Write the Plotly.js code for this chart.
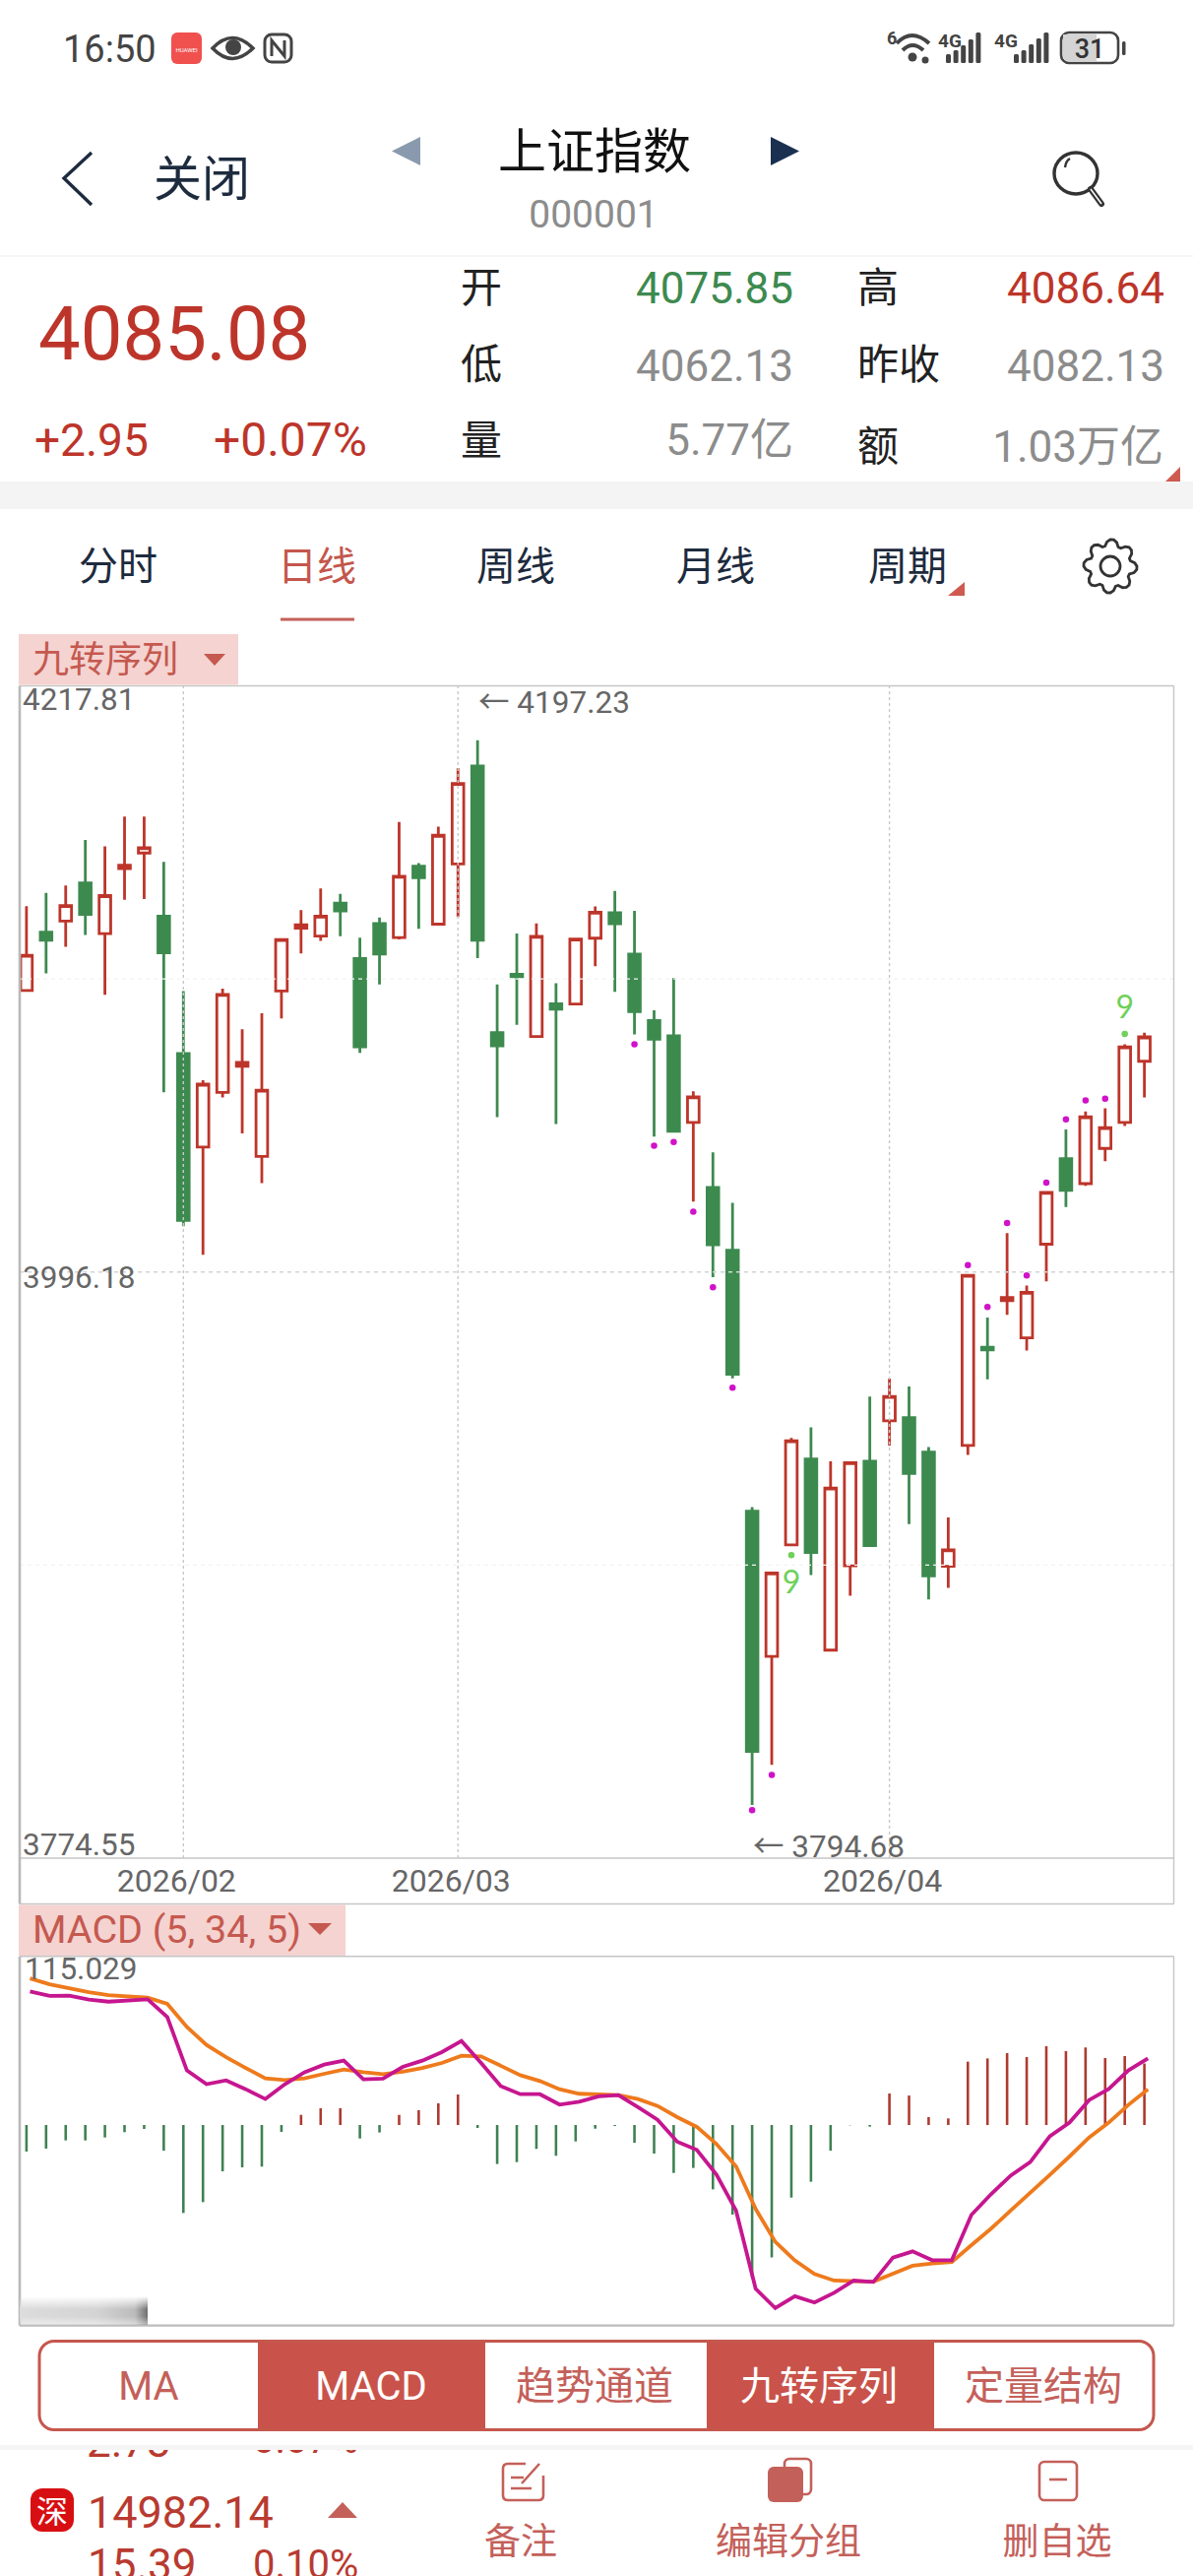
<!DOCTYPE html>
<html lang="zh-CN">
<head>
<meta charset="utf-8">
<script src="https://cdn.plot.ly/plotly-3.0.1.min.js"></script>
<style>
html,body{margin:0;padding:0;background:#fff;width:1212px;height:2616px;overflow:hidden}
#chart{position:absolute;left:0;top:0;width:1212px;height:2616px}
#chrome{position:absolute;left:0;top:0;width:1212px;height:2616px;pointer-events:none}
#chrome div{position:absolute;white-space:nowrap;line-height:1}
#chrome svg{position:absolute;left:0;top:0}
</style>
</head>
<body>
<div id="chart"></div>
<div id="chrome"></div>
<script>
// ---------- chart data ----------
const opens  = [4102.6,4124.7,4128.9,4143.3,4124.1,4148.7,4154.6,4130.7,4078.8,4043.4,4064.1,4074.0,4039.9,4102.4,4126.2,4123.2,4135.7,4114.7,4127.9,4122.6,4149.6,4127.7,4150.5,4187.5,4086.7,4108.8,4085.2,4097.6,4097.5,4122.4,4132.0,4116.4,4091.3,4085.5,4052.7,4028.1,4004.4,3905.7,3850.8,3893.0,3925.5,3853.2,3885.1,3924.6,3939.9,3941.1,3928.1,3884.9,3930.6,3967.7,3985.3,3971.3,4006.7,4039.0,4029.6,4042.9,4052.7,4075.85];
const highs  = [4134.5,4139.5,4142.3,4159.5,4157.1,4168.4,4168.4,4151.3,4102.4,4068.7,4103.3,4088.0,4094.0,4122.1,4133.0,4141.2,4139.2,4122.6,4130.2,4166.3,4150.8,4164.6,4186.7,4197.23,4104.9,4124.2,4128.0,4105.4,4122.4,4134.4,4140.3,4132.7,4095.1,4107.3,4064.5,4041.4,4022.3,3907.3,3882.6,3933.4,3937.4,3924.6,3924.6,3949.1,3955.9,3952.9,3930.0,3903.4,3995.1,3979.0,4010.9,3991.1,4026.5,4050.1,4056.9,4058.1,4082.3,4086.64];
const lows   = [4102.6,4109.1,4119.1,4123.6,4101.0,4136.9,4137.2,4064.1,4013.5,4002.7,4062.2,4048.6,4029.8,4092.1,4116.6,4121.4,4123.1,4079.0,4104.9,4121.9,4125.9,4127.5,4130.4,4114.9,4054.7,4089.6,4085.0,4052.1,4097.3,4111.8,4102.1,4086.0,4047.4,4049.1,4022.8,3994.2,3956.0,3794.68,3809.8,3892.9,3881.6,3853.0,3873.8,3892.5,3930.6,3900.9,3872.4,3876.8,3927.0,3955.6,3980.0,3966.5,3992.6,4020.8,4028.8,4038.1,4051.4,4062.13];
const closes = [4115.9,4121.6,4134.7,4131.4,4138.5,4150.0,4156.6,4116.9,4015.7,4067.2,4101.1,4075.4,4064.9,4121.9,4127.5,4130.7,4132.7,4081.3,4116.4,4145.8,4145.3,4161.3,4180.9,4121.6,4081.7,4107.8,4123.1,4095.6,4122.1,4132.2,4127.9,4094.6,4084.2,4049.4,4062.4,4006.5,3957.5,3814.9,3882.4,3932.4,3890.1,3914.5,3924.1,3892.7,3949.1,3920.0,3881.3,3891.1,3994.9,3966.7,3986.5,3988.5,4026.3,4027.0,4054.9,4050.8,4081.3,4085.08];
const dayIndex = opens.map((_, i) => i);

const macdHist = [-18.1,-16.1,-10.5,-10.5,-8.5,-4.9,-2.7,-17.5,-60.0,-52.6,-31.6,-28.9,-28.4,-4.7,6.9,11.4,11.4,-9.2,-5.1,6.9,10.1,14.8,20.8,-2.0,-26.6,-25.3,-16.3,-21.0,-11.2,-2.5,-0.7,-12.1,-19.5,-32.7,-29.3,-43.9,-61.1,-104.3,-90.4,-49.5,-38.7,-17.5,-0.2,-1.1,21.5,20.1,5.4,4.5,43.2,45.4,49.0,46.3,53.7,50.4,52.8,45.7,47.0,41.9];
const dif = [91.1,88.0,88.2,85.5,84.1,85.0,85.7,73.6,37.2,27.8,30.4,24.4,17.7,27.8,36.0,41.2,43.9,31.1,31.6,39.6,43.9,49.7,57.3,42.3,26.6,21.0,21.0,13.9,15.9,19.5,20.4,12.1,3.6,-11.4,-17.0,-33.8,-58.4,-111.7,-124.9,-116.8,-121.1,-114.4,-106.1,-107.0,-90.4,-86.2,-92.2,-92.2,-61.3,-47.2,-34.5,-25.3,-7.6,1.6,17.0,24.6,37.2,45.4];
const dea = [100.0,96.0,93.3,90.6,88.6,87.5,86.8,82.6,66.9,54.6,46.3,38.9,31.8,30.7,31.8,34.9,37.8,36.0,34.7,36.3,38.9,42.3,47.2,46.8,40.5,34.0,30.0,24.4,21.3,20.8,20.4,17.7,13.0,5.4,-1.3,-13.0,-28.2,-57.3,-79.7,-92.4,-101.6,-106.1,-106.3,-106.8,-101.4,-96.0,-94.4,-93.5,-81.9,-70.7,-58.4,-46.6,-34.0,-21.5,-8.5,1.6,13.7,24.4];

const signalDays   = [31,32,33,34,35,36,37,38,48,49,50,51,52,53,54,55];
const signalPrices = [4082.3,4043.9,4045.3,4019.0,3990.4,3952.4,3792.7,3806.0,3998.8,3983.0,4014.7,3994.9,4030.0,4053.9,4061.1,4061.7];
const nineDays      = [39,56];
const nineDotPrices = [3889.1,4086.2];
const nineTextPrices= [3877.8,4095.0];
const nineLabels    = ['9','9'];

const monthDays   = [8,22,44];
const monthLabels = ['2026/02','2026/03','2026/04'];
const priceTicks  = [4217.81,3996.18,3774.55];
const priceLabels = ['4217.81','3996.18','3774.55'];
const priceFaint  = [4106.995,3885.365];
const macdTop     = 115.029;

// ---------- pixel geometry ----------
const W=1212,H=2616;
const L=20,R=1192.5, T1=696.5,B1=1887, T2=1986.7,B2=2361.7;
const PRICE_RANGE=[3774.55,4217.81], MACD_RANGE=[-136.8,115.029], X_RANGE=[-0.346,58.5];
const px=v=>v/W, py=v=>1-v/H;

const RED='#bd352a', GREEN='#3d8a4f', TXT='#666666', CJK='Roboto,"Noto Sans CJK SC",sans-serif';

const traces=[
 {type:'candlestick',x:dayIndex,open:opens,high:highs,low:lows,close:closes,xaxis:'x',yaxis:'y',whiskerwidth:0,
  increasing:{line:{color:RED,width:2.8},fillcolor:'#ffffff'},
  decreasing:{line:{color:GREEN,width:2.8},fillcolor:GREEN},hoverinfo:'skip',showlegend:false},
 {type:'scatter',mode:'markers',x:signalDays,y:signalPrices,xaxis:'x',yaxis:'y',marker:{color:'#d012c8',size:6.5},hoverinfo:'skip',showlegend:false},
 {type:'scatter',mode:'markers',x:nineDays,y:nineDotPrices,xaxis:'x',yaxis:'y',marker:{color:'#6fd05a',size:6.5},hoverinfo:'skip',showlegend:false},
 {type:'scatter',mode:'text',x:nineDays,y:nineTextPrices,text:nineLabels,textposition:'middle center',xaxis:'x',yaxis:'y',
  textfont:{family:'Lato,Roboto,sans-serif',size:32,color:'#6fd05a'},hoverinfo:'skip',showlegend:false},
 {type:'bar',x:dayIndex,y:macdHist,xaxis:'x2',yaxis:'y2',width:0.13,
  marker:{color:macdHist.map(v=>v>=0?'#ad3a30':'#3f8152'),line:{width:0}},hoverinfo:'skip',showlegend:false},
 {type:'scatter',mode:'lines',x:dayIndex.map(i=>i+0.18),y:dea,xaxis:'x2',yaxis:'y2',line:{color:'#ee7a1c',width:3.8},hoverinfo:'skip',showlegend:false},
 {type:'scatter',mode:'lines',x:dayIndex.map(i=>i+0.18),y:dif,xaxis:'x2',yaxis:'y2',line:{color:'#c6168f',width:3.8},hoverinfo:'skip',showlegend:false}
];

const shapes=[];
// grid drawn over the candles, as in the app
monthDays.forEach(d=>shapes.push({type:'line',layer:'above',xref:'x',yref:'y',x0:d,x1:d,y0:PRICE_RANGE[0],y1:PRICE_RANGE[1],line:{color:'#c9c9c9',width:1.4,dash:'3px,3px'}}));
shapes.push({type:'line',layer:'above',xref:'x',yref:'y',x0:X_RANGE[0],x1:X_RANGE[1],y0:priceTicks[1],y1:priceTicks[1],line:{color:'#d4d4d4',width:1.4,dash:'4px,4px'}});
priceFaint.forEach(v=>shapes.push({type:'line',layer:'above',xref:'x',yref:'y',x0:X_RANGE[0],x1:X_RANGE[1],y0:v,y1:v,line:{color:'#f4f4f4',width:1.2,dash:'4px,4px'}}));
// frames
const frame=(x0,y0,x1,y1,c,w)=>({type:'line',xref:'paper',yref:'paper',x0:px(x0),x1:px(x1),y0:py(y0),y1:py(y1),line:{color:c,width:w}});
shapes.push(frame(L,T1,R,T1,'#c6c6c6',1.4),frame(L,B1,R,B1,'#c6c6c6',1.4),frame(L,1933.5,R,1933.5,'#c6c6c6',1.6),
  frame(R,T1,R,1933.5,'#c6c6c6',1.4),frame(L,T2,R,T2,'#c6c6c6',1.6),frame(L,B2,R,B2,'#bcbcbc',2.2),frame(R,T2,R,B2,'#c6c6c6',1.4),
  frame(20,T1,20,1933.5,'#b9b9b9',2.6),frame(20,T2,20,B2,'#b9b9b9',2.6));
// indicator chips
const chip=(x0,y0,x1,y1)=>({type:'rect',xref:'paper',yref:'paper',x0:px(x0),x1:px(x1),y0:py(y0),y1:py(y1),fillcolor:'#f4d3d1',line:{width:0}});
shapes.push(chip(19,644,242,695.5),chip(19,1934.5,351,1986));

const annotations=[];
const shifts=[-13.5,-6,14];
priceTicks.forEach((v,i)=>annotations.push({xref:'paper',yref:'y',x:px(20.5),y:v,yshift:shifts[i],xanchor:'left',yanchor:'middle',showarrow:false,text:priceLabels[i],font:{family:CJK,size:31.5,color:TXT}}));
annotations.push({xref:'paper',yref:'y2',x:px(22.5),y:macdTop,yshift:-13,xanchor:'left',yanchor:'middle',showarrow:false,text:String(macdTop),font:{family:CJK,size:31.5,color:TXT}});
annotations.push({xref:'x',yref:'y',x:23,y:4211.5,xshift:-1,xanchor:'left',yanchor:'middle',showarrow:false,text:'← 4197.23',font:{family:CJK,size:31.5,color:TXT}});
annotations.push({xref:'x',yref:'y',x:37,y:3779.0,xshift:-1,xanchor:'left',yanchor:'middle',showarrow:false,text:'← 3794.68',font:{family:CJK,size:31.5,color:TXT}});
annotations.push({xref:'paper',yref:'paper',x:px(31),y:py(670),xanchor:'left',yanchor:'middle',showarrow:false,text:'九转序列',font:{family:CJK,size:37,color:'#c5594f'}});
annotations.push({xref:'paper',yref:'paper',x:px(31),y:py(1959),xanchor:'left',yanchor:'middle',showarrow:false,text:'MACD (5, 34, 5)',font:{family:CJK,size:39.5,color:'#c5594f'}});

const axisBase={showgrid:false,zeroline:false,fixedrange:true,showline:false,ticks:''};
const layout={
 width:W,height:H,margin:{l:0,r:0,t:0,b:0},paper_bgcolor:'#ffffff',plot_bgcolor:'#ffffff',showlegend:false,barmode:'overlay',boxgap:0.41,boxgroupgap:0,
 xaxis:{...axisBase,domain:[px(L),px(R)],range:X_RANGE,anchor:'y',rangeslider:{visible:false},tickmode:'array',tickvals:monthDays,ticktext:monthLabels,ticklabelshift:-7,ticklabelstandoff:1,
   tickfont:{family:CJK,size:32,color:TXT}},
 yaxis:{...axisBase,domain:[py(B1),py(T1)],range:PRICE_RANGE,anchor:'x',tickmode:'array',tickvals:priceTicks,showticklabels:false},
 xaxis2:{...axisBase,domain:[px(L),px(R)],range:X_RANGE,anchor:'y2',rangeslider:{visible:false},showticklabels:false},
 yaxis2:{...axisBase,domain:[py(B2),py(T2)],range:MACD_RANGE,anchor:'x2',showticklabels:false},
 shapes,annotations
};
Plotly.newPlot('chart',traces,layout,{staticPlot:true,displayModeBar:false});

// ---------- surrounding app screen ----------
const chrome=document.getElementById('chrome');
function t(text,x,y,size,color,align,extra){
  const d=document.createElement('div');d.textContent=text;
  const tx=align==='center'?'-50%':'0';
  d.style.cssText=`font-family:${CJK.replace(/"/g,"'")};font-size:${size}px;color:${color};top:${y}px;transform:translate(${tx},-50%);`+
    (align==='right'?`right:${W-x}px;`:`left:${x}px;`)+(extra||'');
  chrome.appendChild(d);return d;
}
const NAVY='#1d2b3e', GREY='#8c8c8c', PALE='#c4605a', RD='#bd352a', GN='#3d8a4f';
t('16:50',64,50,38,'#444','left');
t('关闭',156,182,49,NAVY,'left');
t('上证指数',604,154,49,'#111','center');
t('000001',603,218,39,GREY,'center');
t('4085.08',39,339,76,RD,'left');
t('+2.95',35,447,46,RD,'left');
t('+0.07%',217,447,48,RD,'left');
[['开',468,293],['低',468,371],['量',468,448],['高',871,293],['昨收',871,371],['额',871,454]].forEach(a=>t(a[0],a[1],a[2],42,'#222','left'));
t('4075.85',806,293,44,GN,'right');t('4086.64',1183,293,44,RD,'right');
t('4062.13',806,372,44,GREY,'right');t('4082.13',1183,372,44,GREY,'right');
t('5.77亿',806,447,44,GREY,'right');t('1.03万亿',1182,454,44,GREY,'right');
[['分时',120],['周线',524],['月线',727],['周期',922]].forEach(a=>t(a[0],a[1],576,40,NAVY,'center'));
t('日线',322,576,40,'#c4564c','center');
[['MA',151,PALE],['MACD',377,'#fff'],['趋势通道',604,PALE],['九转序列',832,'#fff'],['定量结构',1060,PALE]].forEach(a=>t(a[0],a[1],2424,40,a[2],'center'));
[['备注',529],['编辑分组',801],['删自选',1074]].forEach(a=>t(a[0],a[1],2581,37,PALE,'center'));
t('14982.14',89,2551,45,'#b93a30','left');
t('15.39',89,2605,44,'#b93a30','left');
t('0.10%',257,2605,40,'#b93a30','left');
// partly scrolled-away row
const clip=document.createElement('div');clip.style.cssText='left:0;top:2488px;width:500px;height:8px;overflow:hidden';chrome.appendChild(clip);
[['2.73',88,44],['0.07%',257,40]].forEach(a=>{const d=document.createElement('div');d.textContent=a[0];
  d.style.cssText=`left:${a[1]}px;top:-30px;font-family:Roboto,sans-serif;font-size:${a[2]}px;color:#b93a30`;clip.appendChild(d);});
// smudge at the corner of the MACD panel
const sm=document.createElement('div');
sm.style.cssText='left:20px;top:2332px;width:130px;height:29px;background:linear-gradient(to right,#dcdcdc 0%,#d4d4d4 60%,#bcbcbc 90%,#707070 100%);-webkit-mask-image:linear-gradient(to bottom,transparent 0%,#000 45%,#000 70%,rgba(0,0,0,.5) 100%);';
chrome.appendChild(sm);

// gear outline
let gear='';for(let i=0;i<48;i++){const a=i/48*2*Math.PI,k=i%6;const r=(k<2)?27:(k===2||k===5)?25:21;gear+=(i?'L':'M')+(1128+r*Math.sin(a)).toFixed(1)+' '+(575-r*Math.cos(a)).toFixed(1);}gear+='Z';
const bars=(x,base,hs,c)=>hs.map((h,i)=>`<rect x="${x+i*7.6}" y="${base-h}" width="5" height="${h}" rx="1.5" fill="${c}"/>`).join('');
const svg=`<svg width="${W}" height="${H}" xmlns="http://www.w3.org/2000/svg">
<rect x="174" y="33" width="31" height="32" rx="6" fill="#f0514f"/><text x="189.5" y="53" font-size="6" fill="#fff" text-anchor="middle" font-family="Roboto">HUAWEI</text>
<path d="M216 49 Q236 28 257 49 Q236 70 216 49Z" fill="none" stroke="#444" stroke-width="3.5"/><circle cx="237" cy="48" r="8" fill="#444"/>
<rect x="269" y="35" width="27" height="28" rx="7" fill="none" stroke="#444" stroke-width="3"/><path d="M276 57V41L289 57V41" fill="none" stroke="#444" stroke-width="3"/>
<text x="901" y="45" font-size="18" font-weight="bold" fill="#444" font-family="Roboto">6</text>
<path d="M911 44 Q926 28 944 44M917 51 Q927 41 938 51" fill="none" stroke="#444" stroke-width="4"/><circle cx="927" cy="58" r="4.5" fill="#444"/><circle cx="940" cy="61" r="3.5" fill="#444"/>
<text x="953" y="48" font-size="19" font-weight="bold" fill="#444" font-family="Roboto">4G</text>${bars(961,64,[9,13,18,24,31],'#444')}
<text x="1010" y="48" font-size="19" font-weight="bold" fill="#444" font-family="Roboto">4G</text>${bars(1030,64,[9,13,19,25,31],'#444')}
<rect x="1078" y="33" width="58" height="31" rx="8" fill="none" stroke="#444" stroke-width="2.6"/><path d="M1080 35h34v27h-28q-6 0-6-6z" fill="#d4d4d4"/>
<text x="1107" y="59" font-size="27" text-anchor="middle" fill="#333" font-family="Roboto" font-weight="500">31</text><rect x="1140" y="42" width="3.5" height="14" rx="1.5" fill="#444"/>
<path d="M93 155L65 181L93 208" fill="none" stroke="${NAVY}" stroke-width="3.4"/>
<path d="M427 139V168L398 153.5Z" fill="#8a9aae"/><path d="M783 139V168L812 153.5Z" fill="#1a3050"/>
<ellipse cx="1093" cy="176" rx="22" ry="21" fill="none" stroke="#333" stroke-width="3.4"/><path d="M1082 170q1-7 5-9" stroke="#333" stroke-width="2.4" fill="none"/>
<path d="M1108 192L1119 207" stroke="#333" stroke-width="6" stroke-linecap="round"/><path d="M1108 192L1119 207" stroke="#fff" stroke-width="1.5"/>
<line x1="0" x2="1212" y1="260" y2="260" stroke="#f2f2f2" stroke-width="1.5"/>
<rect x="0" y="489" width="1212" height="28" fill="#f4f4f4"/>
<path d="M1199 474V489H1184Z" fill="#cf5a50"/>
<path d="M980 591V605H963Z" fill="#cf5a50"/>
<rect x="285" y="627.5" width="75" height="3" fill="#c4605a"/>
<path d="${gear}" fill="none" stroke="#333" stroke-width="2.8"/><circle cx="1128" cy="575" r="10" fill="none" stroke="#333" stroke-width="2.8"/>
<path d="M207 664H229L218 676Z" fill="#c5594f"/><path d="M313 1953H337L325 1965Z" fill="#c5594f"/>
<rect x="262" y="2376" width="231" height="93" fill="#c9534a"/><rect x="718" y="2376" width="231" height="93" fill="#c9534a"/>
<rect x="40" y="2377.5" width="1132" height="90" rx="15" fill="none" stroke="#c5574d" stroke-width="3"/>
<rect x="0" y="2483" width="1212" height="5" fill="#f5f5f5"/>
<rect x="31" y="2527" width="44" height="44" rx="12" fill="#d80f12"/><text x="53" y="2562" text-anchor="middle" font-size="32" fill="#fff" font-family="'Noto Sans CJK SC'">深</text>
<path d="M348 2541L363 2557H333Z" fill="#c4605a"/>
<path d="M534 2502H516q-5 0-5 5v27q0 5 5 5h31q5 0 5-5v-20M530 2522L548 2502M519 2516H532M519 2527H540" fill="none" stroke="#c4605a" stroke-width="2.6"/>
<rect x="797" y="2497" width="27" height="36" rx="5" fill="none" stroke="#c4605a" stroke-width="2.6"/><rect x="780" y="2505" width="36" height="36" rx="6" fill="#c4605a"/>
<rect x="1056" y="2500" width="38" height="39" rx="5" fill="none" stroke="#c4605a" stroke-width="2.6"/><path d="M1066 2518H1084" stroke="#c4605a" stroke-width="2.6"/>
</svg>`;
chrome.insertAdjacentHTML('afterbegin',svg);
</script>
</body>
</html>
